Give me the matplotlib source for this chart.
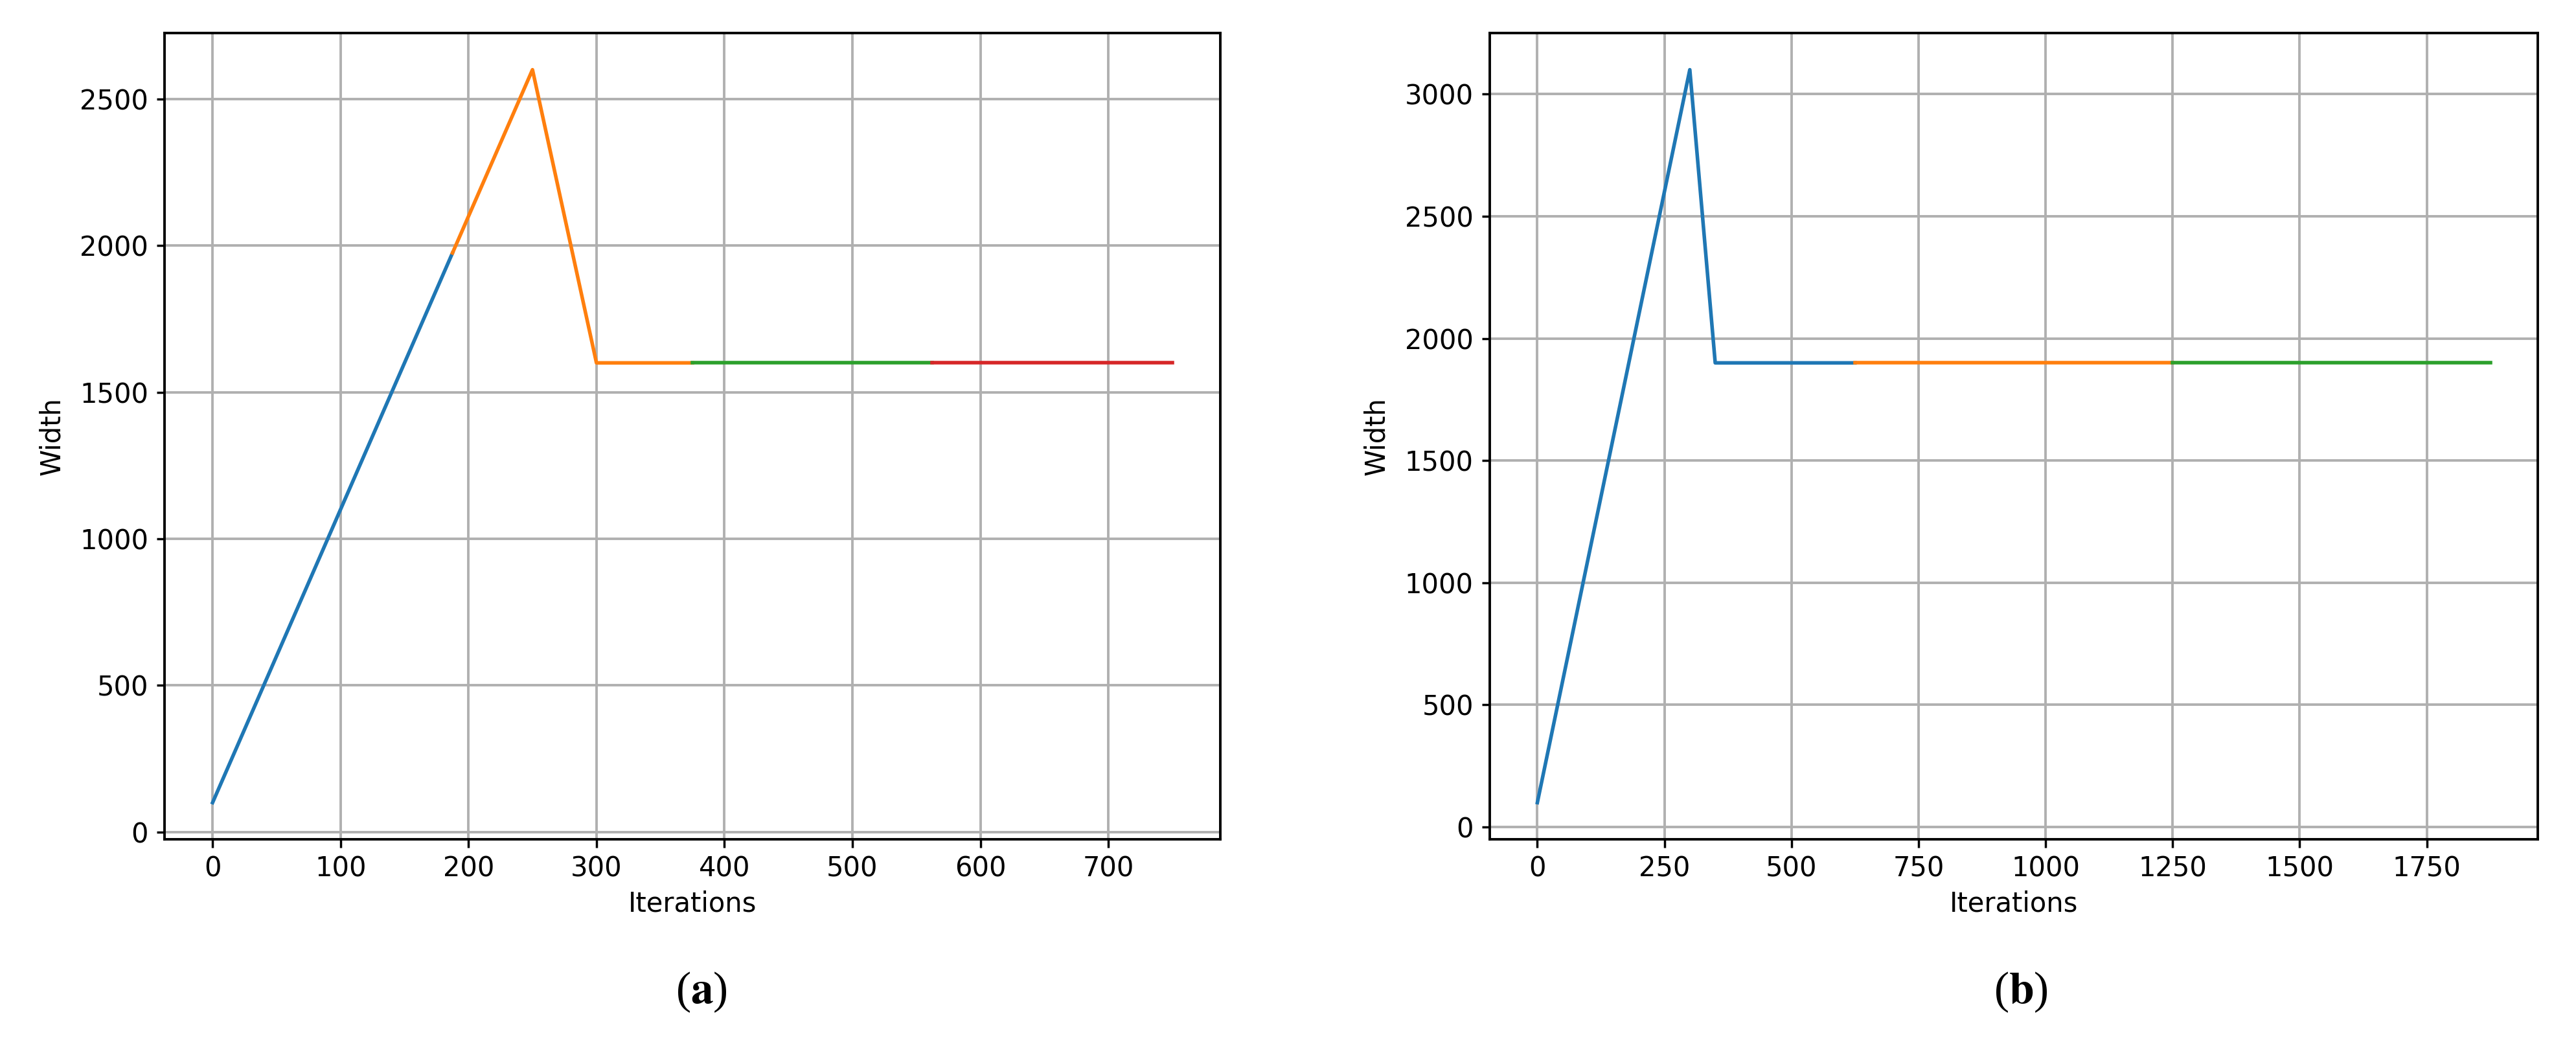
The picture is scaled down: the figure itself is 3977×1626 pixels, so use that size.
import matplotlib
matplotlib.use("Agg")
import matplotlib.pyplot as plt

plt.rcParams["font.family"] = "DejaVu Sans"
plt.rcParams["mathtext.fontset"] = "stix"

# (a) 750 iterations, four runs
a_x = [[0, 187.5], [187.5, 250, 300, 375], [375, 562.5], [562.5, 750]]
a_y = [[100, 1975], [1975, 2600, 1600, 1600], [1600, 1600], [1600, 1600]]
# (b) 1875 iterations, three runs
b_x = [[0, 300, 350, 625], [625, 1250], [1250, 1875]]
b_y = [[100, 3100, 1900, 1900], [1900, 1900], [1900, 1900]]
a_ticks = [0, 100, 200, 300, 400, 500, 600, 700]
b_ticks = [0, 250, 500, 750, 1000, 1250, 1500, 1750]
COL = ["#1f77b4", "#ff7f0e", "#2ca02c", "#d62728"]

fig = plt.figure(figsize=(39.77, 16.26), dpi=100)
a1 = fig.add_axes([0.0639, 0.203, 0.4098, 0.7656])
a2 = fig.add_axes([0.5783, 0.203, 0.4069, 0.7656])

for ax, xs, ys, xt, cap, cx in [(a1, a_x, a_y, a_ticks, "a", 0.2723),
                                (a2, b_x, b_y, b_ticks, "b", 0.7845)]:
    for i, (x, y) in enumerate(zip(xs, ys)):
        ax.plot(x, y, color=COL[i], lw=4.0)
    ax.set_xticks(xt)
    ax.grid(True, color="#b0b0b0", lw=2.8)
    ax.set_xlabel("Iterations", fontsize=30, labelpad=8)
    ax.set_ylabel("Width", fontsize=30, labelpad=16)
    ax.tick_params(labelsize=30, width=2.5, length=9, pad=9)
    for s in ax.spines.values():
        s.set_linewidth(2.8)
    fig.text(cx, 0.058, r"($\mathbf{" + cap + r"}$)", fontsize=50, ha="center",
             va="center", family="Liberation Serif")

fig.savefig("out.png", dpi=100)
